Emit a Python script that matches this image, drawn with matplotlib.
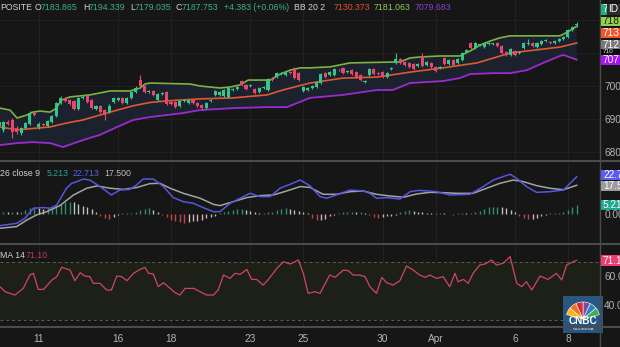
import numpy as np
import matplotlib.pyplot as plt
from matplotlib.lines import Line2D
from matplotlib.patches import Rectangle, Wedge

plt.rcParams['font.family'] = ['Liberation Sans', 'DejaVu Sans']

W, H = 620, 347
BG = '#161616'
GREEN = '#34c68a'
RED = '#e5476d'
AXIS_TXT = '#b4b4b4'

# hourly candles, IDX Composite, 9 Mar - 8 Apr
opens = [6879, 6867, 6891, 6897, 6873, 6858, 6873, 6885, 6918, 6876,
         6885, 6879, 6891, 6909, 6949, 6964, 6958, 6955, 6930, 6964,
         6970, 6958, 6930, 6939, 6927, 6921, 6952, 6958, 6964, 6949,
         6964, 6982, 7018, 7000, 6982, 6985, 6958, 6976, 6982, 6952,
         6952, 6939, 6955, 6949, 6958, 6949, 6942, 6933, 6955, 6973,
         6973, 6970, 6967, 6988, 6991, 7015, 7003, 7000, 6991, 6982,
         6994, 6988, 7021, 7027, 7036, 7033, 7042, 7055, 7039, 6985,
         6988, 6994, 6997, 7009, 7039, 7033, 7033, 7048, 7055, 7042,
         7048, 7042, 7033, 7012, 7033, 7052, 7039, 7042, 7027, 7052,
         7070, 7082, 7073, 7070, 7067, 7061, 7091, 7064, 7070, 7058,
         7055, 7085, 7067, 7079, 7070, 7079, 7103, 7130, 7115, 7124,
         7118, 7127, 7127, 7130, 7121, 7103, 7094, 7106, 7100, 7115,
         7127, 7130, 7118, 7127, 7136, 7133, 7130, 7136, 7142, 7149,
         7170, 7183.865]
highs = [6897, 6894, 6897, 6903, 6879, 6876, 6891, 6924, 6921, 6891,
         6888, 6897, 6912, 6952, 6970, 6967, 6961, 6958, 6967, 6973,
         6976, 6961, 6942, 6943, 6930, 6945, 6967, 6968, 6967, 6967,
         6985, 7000, 7033, 7003, 6988, 6988, 6979, 6982, 6985, 6955,
         6955, 6958, 6961, 6961, 6961, 6952, 6945, 6952, 6962, 6988,
         6985, 6991, 6997, 6994, 7000, 7018, 7006, 7006, 6994, 6997,
         7000, 7024, 7027, 7042, 7043, 7045, 7046, 7058, 7042, 7000,
         6997, 7003, 7015, 7039, 7042, 7046, 7055, 7052, 7058, 7048,
         7051, 7045, 7036, 7018, 7055, 7055, 7042, 7045, 7042, 7058,
         7100, 7085, 7076, 7073, 7070, 7070, 7100, 7076, 7073, 7061,
         7061, 7088, 7082, 7082, 7085, 7103, 7112, 7133, 7133, 7128,
         7133, 7133, 7131, 7133, 7124, 7106, 7115, 7109, 7106, 7133,
         7142, 7133, 7133, 7139, 7142, 7136, 7139, 7145, 7152, 7173,
         7182, 7194.339]
lows = [6873, 6861, 6882, 6842, 6855, 6852, 6870, 6882, 6909, 6870,
        6879, 6876, 6888, 6906, 6946, 6952, 6942, 6927, 6927, 6961,
        6949, 6930, 6927, 6918, 6897, 6918, 6949, 6955, 6946, 6946,
        6961, 6979, 6997, 6979, 6979, 6970, 6955, 6973, 6942, 6942,
        6933, 6936, 6952, 6946, 6946, 6936, 6930, 6930, 6952, 6970,
        6970, 6967, 6964, 6985, 6988, 7000, 6988, 6997, 6976, 6979,
        6991, 6985, 7015, 7024, 7033, 7030, 7036, 7021, 7015, 6982,
        6985, 6991, 6994, 7006, 7024, 7030, 7030, 7045, 7036, 7039,
        7033, 7024, 7015, 7009, 7030, 7033, 7033, 7024, 7024, 7049,
        7067, 7067, 7061, 7055, 7049, 7058, 7058, 7061, 7055, 7042,
        7052, 7064, 7064, 7061, 7067, 7076, 7100, 7112, 7112, 7121,
        7115, 7124, 7124, 7118, 7097, 7091, 7091, 7091, 7097, 7112,
        7124, 7118, 7115, 7124, 7133, 7127, 7127, 7133, 7139, 7146,
        7167, 7179.035]
closes = [6891, 6891, 6885, 6861, 6861, 6873, 6888, 6918, 6912, 6885,
          6882, 6894, 6909, 6949, 6964, 6955, 6945, 6930, 6964, 6967,
          6952, 6933, 6939, 6921, 6912, 6939, 6964, 6964, 6949, 6964,
          6982, 6994, 7000, 6982, 6985, 6973, 6976, 6979, 6945, 6945,
          6936, 6955, 6956, 6958, 6949, 6939, 6933, 6949, 6958, 6985,
          6982, 6988, 6994, 6991, 6997, 7003, 6991, 7003, 6979, 6994,
          6997, 7021, 7018, 7039, 7040, 7042, 7039, 7024, 7018, 6997,
          6994, 7000, 7012, 7036, 7027, 7042, 7052, 7049, 7039, 7045,
          7036, 7027, 7018, 7015, 7052, 7036, 7036, 7027, 7039, 7055,
          7082, 7070, 7064, 7058, 7052, 7067, 7061, 7073, 7058, 7045,
          7058, 7067, 7079, 7064, 7082, 7100, 7109, 7115, 7130, 7125,
          7130, 7130, 7128, 7121, 7100, 7094, 7112, 7094, 7103, 7130,
          7130, 7121, 7130, 7136, 7139, 7130, 7136, 7142, 7149, 7170,
          7179, 7187.753]

# Bollinger Bands 20, 2 (bar position, value)
bb_up_bar = [0.2, 2.5, 4.1, 6.3, 7.7, 9.3, 11.6, 12.7, 14.3, 16.1, 18.4, 20.6,
             22.9, 25.2, 29.7, 32.0, 33.1, 34.2, 43.3, 45.6, 47.8, 50.1, 52.4,
             54.6, 56.5, 61.5, 63.7, 66.0, 68.3, 70.5, 75.1, 79.6, 90.9, 93.2,
             95.5, 100.0, 104.5, 106.8, 109.1, 111.3, 113.6, 115.9, 120.4,
             124.9, 127.2, 129.0, 131]
bb_up = [6933, 6927, 6903, 6912, 6921, 6924, 6921, 6930, 6958, 6967, 6970, 6973,
         6979, 6985, 6985, 6994, 7006, 7009, 7006, 7000, 6997, 6994, 6997,
         7003, 7018, 7018, 7036, 7048, 7055, 7055, 7058, 7070, 7073, 7085,
         7088, 7091, 7091, 7106, 7124, 7136, 7146, 7152, 7152,
         7152, 7152, 7164, 7181.063]
bb_mid_bar = [0.2, 4.1, 11.6, 15.4, 19.0, 22.9, 26.8, 30.4, 34.2, 38.1, 45.6,
              53.1, 60.8, 64.4, 70.5, 78.0, 85.7, 93.2, 100.7, 108.4, 115.9,
              123.4, 127.2, 131]
bb_mid = [6876, 6867, 6876, 6888, 6897, 6912, 6927, 6940, 6950, 6955, 6961,
          6964, 6973, 6988, 7009, 7024, 7027, 7042, 7055, 7070, 7100,
          7112, 7118, 7130.373]
bb_low_bar = [0.2, 4.1, 7.7, 11.6, 14.5, 19.0, 22.9, 26.8, 30.4, 34.2, 38.1,
              41.7, 45.6, 49.4, 53.1, 60.8, 65.3, 70.5, 78.0, 85.7, 89.3, 93.2,
              100.7, 104.5, 106.8, 112.0, 115.9, 119.7, 123.4, 127.2, 128.0, 131]
bb_low = [6821, 6827, 6830, 6827, 6815, 6836, 6852, 6876, 6897, 6906, 6912,
          6918, 6927, 6930, 6933, 6936, 6936, 6964, 6973, 6988, 6988, 7009,
          7015, 7024, 7036, 7039, 7039, 7048, 7070, 7091, 7094, 7079.683]

# MACD 12, 26, close, 9
macd_bar = [0.2, 4.0, 5.9, 7.8, 10.1, 11.6, 13.1, 15.3, 16.5, 17.6, 19.1, 20.6,
            22.9, 25.5, 27.4, 29.7, 31.2, 32.7, 35.0, 37.3, 39.5, 41.8, 44.1,
            46.3, 48.6, 50.1, 52.4, 54.7, 56.9, 59.2, 61.5, 63.7, 66.0, 68.3,
            70.5, 72.8, 74.3, 76.5, 79.6, 82.6, 84.1, 85.6, 87.9, 90.9, 93.2,
            95.4, 99.2, 102.2, 106.8, 109.8, 112.1, 114.3, 115.9, 117.4, 119.6,
            121.9, 124.9, 128.0, 129.5, 131]
macd_line = [-7.1, -5.7, -2.6, 3.5, 3.9, 3.5, 5.5, 15.7, 18.7, 19.7, 21.3, 20.7,
             16.7, 11.6, 14.6, 15.0, 17.7, 21.3, 21.3, 16.7, 10.0, 7.5, 6.5,
             3.9, 1.4, 1.4, 6.5, 9.6, 12.6, 10.6, 10.6, 15.7, 18.1, 20.7,
             17.2, 10.6, 9.6, 11.6, 14.6, 14.0, 12.6, 9.6, 10.0, 9.1, 13.6,
             14.4, 13.6, 11.6, 12.0, 16.7, 20.7, 22.8, 24.2, 21.7, 16.7,
             13.2, 13.6, 14.6, 18.7, 22.713]
signal_bar = [0.2, 4.0, 6.3, 8.5, 10.8, 13.8, 16.9, 19.9, 22.2, 25.2, 28.2, 31.2,
              34.2, 36.5, 38.8, 41.8, 45.6, 48.6, 50.1, 53.1, 56.2, 59.2, 62.2,
              65.2, 68.3, 70.5, 73.5, 76.5, 79.6, 82.6, 85.6, 88.6, 91.7, 94.7,
              97.7, 100.7, 103.8, 107.5, 110.6, 113.6, 116.6, 118.9, 121.9,
              124.9, 128.0, 131]
signal_line = [-8.7, -7.7, -3.7, -0.6, 1.4, 5.1, 11.6, 15.7, 17.1, 15.7, 15.0, 16.1,
               18.5, 18.7, 15.7, 12.6, 9.6, 5.9, 5.1, 7.5, 10.0, 11.2, 11.6,
               14.0, 16.7, 16.2, 12.0, 12.0, 13.6, 14.0, 12.0, 11.0, 10.2, 12.2,
               13.2, 13.0, 12.6, 12.6, 15.7, 18.7, 20.7, 19.7, 17.3,
               15.7, 14.8, 17.5]
macd_hist = [1.0, 1.2, 1.0, 1.2, 1.0, 1.5, 2.5, 3.5, 4.0,
             3.5, 3.0, 3.8, 4.5, 5.0, 6.0, 7.0, 7.5, 7.0,
             6.0, 5.0, 4.0, 3.0, 1.5,
             -1.0, -2.5, -3.0, -2.0,
             -0.5, 0.3, 0.5, 0.8,
             1.5, 2.5, 3.0, 3.5, 2.5, 1.5,
             -0.5, -2.0, -3.5, -4.5, -5.0, -5.5, -5.0, -4.5, -4.0, -3.5, -2.5,
             -2.0, -1.0,
             0.5, 1.0, 2.0, 2.5, 3.0, 3.0, 2.5, 2.0, 1.0, 0.5, 0.5, 1.0, 1.5,
             2.5, 3.0, 3.5, 3.0, 2.5, 2.0, 1.0, 0.5,
             -2.5, -3.5, -3.5, -3.0, -1.5, -0.5,
             0.5, 1.0, 1.5, 1.5, 1.0, 1.0, 0.5,
             -0.5, -2.0, -2.5, -2.0, -1.5, -1.0, -0.5,
             1.0, 2.0, 2.5, 2.0, 1.5, 1.0, 0.5,
             0.3, 0.5, 0.5, 0.3, -0.3, -0.5, 0.3, 0.5, 0.3, 0.5, 1.0,
             2.0, 3.0, 4.0, 4.5, 4.5, 4.0, 3.5, 2.5, 1.0,
             -1.0, -2.5, -3.0, -3.0, -2.5, -1.5, -0.5,
             0.3, 0.5, 0.5, 1.0, 2.5, 4.0, 5.213]

# RSI 14
rsi_bar = [0.2, 1.4, 3.6, 5.5, 7.0, 7.8, 8.9, 10.1, 12.0, 13.1,
           14.2, 16.1, 17.2, 18.4, 19.5, 20.6, 21.4, 22.9, 24.4, 25.5,
           26.7, 27.8, 29.0, 30.5, 32.0, 33.1, 33.9, 35.0, 36.1, 37.3,
           38.8, 39.9, 41.0, 42.2, 44.1, 45.6, 47.1, 48.6, 49.7, 50.9,
           52.4, 53.5, 54.7, 56.2, 57.3, 58.4, 59.9, 61.1, 63.0, 64.5,
           66.0, 67.9, 69.0, 70.1, 71.6, 72.8, 75.0, 76.2, 78.1, 79.2,
           80.3, 81.8, 83.0, 84.1, 85.6, 86.8, 87.9, 89.4, 90.9, 92.4,
           93.9, 95.4, 96.6, 97.7, 99.2, 100.7, 102.2, 103.4, 104.1, 105.3,
           106.4, 107.5, 109.0, 110.2, 111.7, 112.8, 114.3, 115.9, 117.4, 118.5,
           119.6, 120.8, 122.7, 124.5, 126.4, 127.6, 128.7, 130.2, 131]
rsi = [53.0, 49.5, 47.2, 51.8, 61.0, 62.2, 51.1, 51.1, 57.6, 59.9,
       66.3, 64.5, 57.1, 62.6, 60.3, 59.9, 55.3, 55.3, 50.7, 50.7,
       60.3, 59.9, 57.1, 62.2, 64.9, 66.3, 62.2, 61.7, 53.0, 55.7,
       51.8, 48.9, 47.2, 51.8, 51.8, 49.5, 47.2, 47.2, 50.7, 61.0,
       58.7, 62.2, 61.5, 64.9, 58.0, 58.0, 54.1, 58.0, 65.6, 70.2,
       68.6, 71.4, 62.2, 48.4, 49.5, 48.4, 61.0, 59.4, 64.5, 64.0,
       61.0, 61.0, 59.9, 53.0, 48.4, 59.4, 55.7, 54.1, 57.1, 67.2,
       64.5, 61.0, 59.4, 61.0, 58.7, 59.9, 53.0, 62.2, 56.4, 58.0,
       55.3, 62.2, 67.9, 68.6, 71.4, 67.9, 69.1, 73.7, 55.3, 53.0,
       56.4, 50.7, 60.3, 58.0, 62.2, 57.6, 67.9, 70.2, 71.1]

# first bar of each labelled session
day_bars = [9, 27, 39, 57, 69, 87, 99, 117, 129]
day_labels = ['11', '16', '18', '23', '25', '30', 'Apr', '6', '8']


def rect(y0, y1):
    return [0, 1 - y1 / H, 600 / W, (y1 - y0) / H]


def fx(x):
    return x / W


def fy(y):
    return 1 - y / H


fig = plt.figure(figsize=(6.2, 3.47), dpi=100, facecolor=BG)
ax = fig.add_axes(rect(0, 160))
ax_macd = fig.add_axes(rect(162, 243))
ax_rsi = fig.add_axes(rect(245, 326))

for a in (ax, ax_macd, ax_rsi):
    a.set_facecolor(BG)
    a.set_xlim(0.227, 136.28)
    for s in a.spines.values():
        s.set_visible(False)
    a.yaxis.tick_right()
    a.tick_params(axis='y', length=0, pad=3, labelsize=7.3, labelcolor=AXIS_TXT)
    a.tick_params(axis='x', length=0)
    for b in day_bars:
        a.axvline(b, color='#222222', lw=0.7, zorder=0)

# price panel
ax.set_ylim(6775.8, 7260.6)
ax.set_yticks([6800, 6900, 7000])
ax.set_xticks([])
for v in (6800, 6900, 7000, 7100, 7200):
    ax.axhline(v, color='#202020', lw=0.7, zorder=0)

band_x = bb_up_bar + bb_low_bar[::-1]
band_y = bb_up + bb_low[::-1]
ax.fill(band_x, band_y, color='#1b222d', lw=0, zorder=1)
ax.plot(bb_up_bar, bb_up, color='#7cb342', lw=1.2, zorder=2)
ax.plot(bb_mid_bar, bb_mid, color='#e0582f', lw=1.2, zorder=2)
ax.plot(bb_low_bar, bb_low, color='#9a2bd0', lw=1.3, zorder=2)

o = np.array(opens)
c = np.array(closes)
idx = np.arange(len(c))
cols = np.where(c >= o, GREEN, RED)
ax.vlines(idx, lows, highs, colors=cols, lw=0.8, zorder=3)
body = np.maximum(np.abs(c - o), 2.0)
ax.bar(idx, body, bottom=np.minimum(o, c), width=0.7, color=cols, lw=0, zorder=4)

# MACD panel
ax_macd.set_ylim(-17.7, 31.7)
ax_macd.set_yticks([0])
ax_macd.set_yticklabels(['0.00'])
ax_macd.set_xticks([])
hist = np.array(macd_hist)
hcols = []
prev = 0.0
for v in hist:
    if v >= 0:
        hcols.append('#2f8c6e' if v >= prev else '#b9c7c1')
    else:
        hcols.append('#c2474c' if v < prev else '#d8b2b4')
    prev = v
ax_macd.vlines(np.arange(len(hist)), 0, hist, colors=hcols, lw=1.0, zorder=2)
ax_macd.plot(signal_bar, signal_line, color='#a3a3a3', lw=1.1, zorder=3)
ax_macd.plot(macd_bar, macd_line, color='#5656e0', lw=1.1, zorder=4)

# RSI panel
ax_rsi.set_ylim(25.86, 81.72)
ax_rsi.set_yticks([40, 60])
ax_rsi.set_yticklabels(['40.0', '60.0'])
ax_rsi.axhspan(30, 70, color='#1d2017', lw=0, zorder=0)
for v in (30, 70):
    ax_rsi.axhline(v, color='#5e5e4e', lw=0.7, dashes=(3, 3), zorder=1)
ax_rsi.plot(rsi_bar, rsi, color='#d24468', lw=0.9, zorder=3)
ax_rsi.set_xticks(day_bars)
ax_rsi.set_xticklabels(day_labels)
ax_rsi.tick_params(axis='x', pad=6, labelsize=7.3, labelcolor=AXIS_TXT)

# panel separators and price scale edge
for y in (161, 244, 326.5):
    fig.add_artist(Line2D([0, 1], [fy(y), fy(y)], color='#4b4b4b', lw=1.5))
fig.add_artist(Line2D([fx(600), fx(600)], [0, 1], color='#4b4b4b', lw=1.0))

# last-value tags on the price scale
tags = [(4, 15, '#22b07a', '7', 'white'),
        (17, 26, '#8fd14a', '718', '#1a1a1a'),
        (28, 38, '#f2542b', '713', 'white'),
        (40, 49, '#7a7a7a', '712', 'white'),
        (49, 55, '#0b0b0b', '710', '#dddddd'),
        (55, 65, '#a416f2', '707', 'white'),
        (170, 180, '#5b5bf2', '22.7', 'white'),
        (181, 191, '#9c9c9c', '17.5', 'white'),
        (200, 210, '#1ea88e', '5.21', 'white'),
        (255, 266, '#f03c70', '71.1', 'white')]
for k, (y0, y1, fc, txt, tc) in enumerate(tags):
    z = 5 + 2 * k
    fig.add_artist(Rectangle((fx(600.5), fy(y1)), fx(20), (y1 - y0) / H,
                             transform=fig.transFigure, color=fc, lw=0, zorder=z))
    small = txt == '710'
    fig.text(fx(603), fy(y0 + 2.6 if small else (y0 + y1) / 2), txt,
             color=tc, fontsize=4.6 if small else 7.3, va='center', ha='left',
             zorder=z + 1)
fig.add_artist(Rectangle((fx(607), fy(15)), fx(13), 11 / H,
                         transform=fig.transFigure, color='#2c2c2c', lw=0, zorder=30))
fig.text(fx(608.5), fy(9.5), 'ID', color='white', fontsize=7.3, va='center', zorder=31)

# legends
def legend(y, parts):
    for x, txt, col in parts:
        fig.text(fx(x), fy(y), txt, color=col, fontsize=6.3, va='center', ha='left')


legend(8, [(0, 'POSITE', '#d2d2d2'), (35, 'O', '#d2d2d2'), (41, '7183.865', '#3bb27e'),
           (83, 'H', '#d2d2d2'), (89, '7194.339', '#3bb27e'),
           (130, 'L', '#d2d2d2'), (135, '7179.035', '#3bb27e'),
           (176, 'C', '#d2d2d2'), (182, '7187.753', '#3bb27e'),
           (224, '+4.383 (+0.06%)', '#3bb27e'),
           (294, 'BB 20 2', '#d2d2d2'), (334, '7130.373', '#e0532e'),
           (374, '7181.063', '#90c94e'), (415, '7079.683', '#8a3fcf')])
legend(173, [(0, '26 close 9', '#d2d2d2'), (47, '5.213', '#27a58c'),
             (73, '22.713', '#5f5ff0'), (104, '17.500', '#bdbdbd')])
legend(256, [(0, 'MA 14', '#d2d2d2'), (26, '71.10', '#c2355f')])

# watermark
logo = fig.add_axes([fx(563), fy(333), fx(40), 37 / H])
logo.set_xlim(0, 40)
logo.set_ylim(0, 37)
logo.axis('off')
logo.add_patch(Rectangle((0, 0), 40, 37, color='#2f6aa5', alpha=0.75, lw=0))
feathers = ['#3dae49', '#2d7fc1', '#7b4fa0', '#e1262b', '#f37021', '#fcb711']
for k, fc in enumerate(feathers):
    a0 = 15 + k * 25
    logo.add_patch(Wedge((20, 14), 17, a0, a0 + 25, color=fc, ec='white', lw=0.4))
logo.text(20, 11.5, 'CNBC', color='white', fontsize=7.2, fontweight='bold',
          ha='center', va='center')
logo.text(20, 4.5, 'INDONESIA', color='white', fontsize=2.8, ha='center', va='center')

fig.savefig('out.png', dpi=100, facecolor=BG)
